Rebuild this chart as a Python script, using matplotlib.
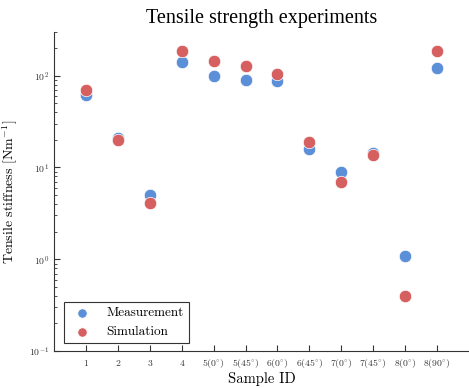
import matplotlib
matplotlib.use("Agg")
import matplotlib.pyplot as plt
import numpy as np

plt.rcParams['font.family'] = 'serif'
plt.rcParams['font.serif'] = ['cmr10']
plt.rcParams['mathtext.fontset'] = 'cm'
plt.rcParams['axes.formatter.use_mathtext'] = True

# Data
sample_ids = ['1', '2', '3', '4', r'5(0$^{\circ}$)', r'5(45$^{\circ}$)', r'6(0$^{\circ}$)',
              r'6(45$^{\circ}$)', r'7(0$^{\circ}$)', r'7(45$^{\circ}$)', r'8(0$^{\circ}$)',
              r'8(90$^{\circ}$)']
measurement = [62, 21, 5.0, 142, 100, 90, 88, 16, 9.0, 14.5, 1.1, 122]
simulation = [69, 20, 4.1, 187, 146, 126, 103, 19, 6.9, 13.8, 0.40, 187]

blue = '#5b8fd8'
red = '#d65f5f'

fig = plt.figure(figsize=(4.69, 3.88), dpi=100)
ax = fig.add_axes([0.115, 0.095, 0.885, 0.823])

x = np.arange(1, len(sample_ids) + 1)
ax.scatter(x, measurement, s=80, color=blue, edgecolors='white', linewidths=0.5,
           label='Measurement', zorder=3)
ax.scatter(x, simulation, s=80, color=red, edgecolors='white', linewidths=0.5,
           label='Simulation', zorder=4)

ax.set_yscale('log')
ax.set_ylim(0.1, 300)
ax.set_xlim(0, 13)
ax.set_xticks(x)
ax.set_xticklabels(sample_ids)
for lbl in ax.get_xticklabels():
    lbl.set_verticalalignment('baseline')

for side in ['top', 'right']:
    ax.spines[side].set_visible(False)
for side in ['left', 'bottom']:
    ax.spines[side].set_color('#333333')
    ax.spines[side].set_linewidth(0.8)

ax.tick_params(axis='both', which='both', direction='in', labelsize=7, colors='#333333')
ax.tick_params(axis='both', which='major', length=4)
ax.tick_params(axis='x', pad=11)
ax.tick_params(axis='y', which='minor', length=2)

ax.set_title('Tensile strength experiments', fontsize=14.5, family='Liberation Serif', pad=6)
ax.set_ylabel(r'Tensile stiffness [Nm$^{-1}$]', fontsize=10, labelpad=6)
ax.set_xlabel('Sample ID', fontsize=10.5, labelpad=1)

leg = ax.legend(loc='lower left', fontsize=9.5, fancybox=False, framealpha=1,
                edgecolor='#333333', handletextpad=0.8, borderpad=0.4,
                markerscale=0.75, borderaxespad=0, bbox_to_anchor=(0.024, 0.024))
leg.get_frame().set_linewidth(0.8)

fig.savefig('out.png', dpi=100)
